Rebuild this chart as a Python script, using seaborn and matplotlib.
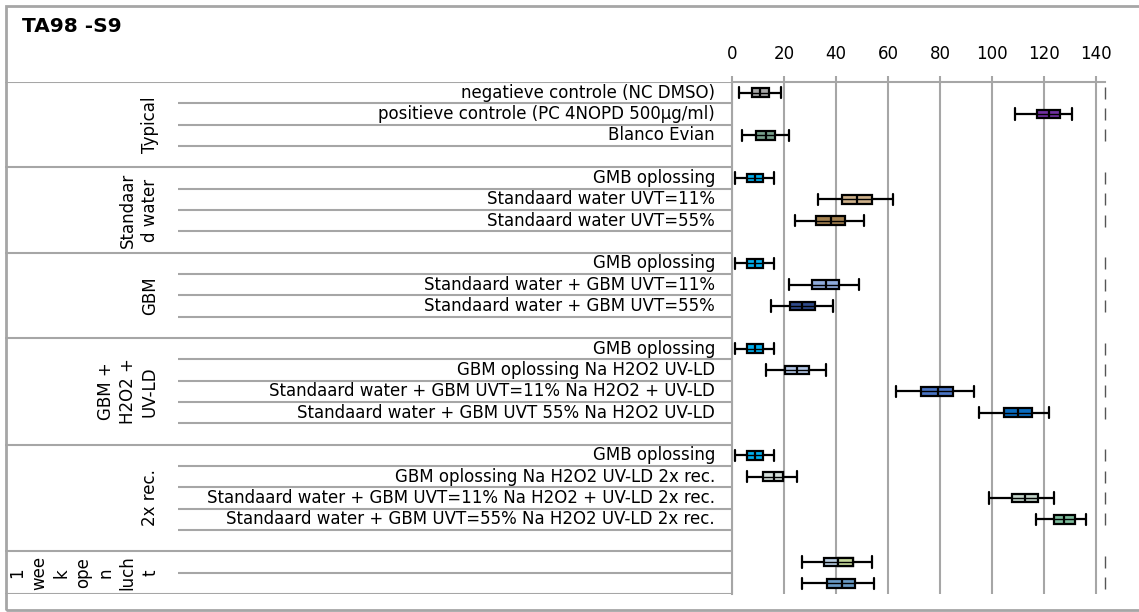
import matplotlib
matplotlib.use("Agg")
import matplotlib.pyplot as plt
from matplotlib.patches import Rectangle
import numpy as np
import pandas as pd
import seaborn as sns

# group names (left column) and how many rows each group takes
groups = ["Typical", "Standaar\nd water", "GBM", "GBM +\nH2O2 +\nUV-LD", "2x rec.",
          "1\nwee\nk\nope\nn\nluch\nt"]
group_sizes = [4, 4, 4, 5, 5, 2]

labels = [
    "negatieve controle (NC DMSO)", "positieve controle (PC 4NOPD 500µg/ml)", "Blanco Evian", "",
    "GMB oplossing", "Standaard water UVT=11%", "Standaard water UVT=55%", "",
    "GMB oplossing", "Standaard water + GBM UVT=11%", "Standaard water + GBM UVT=55%", "",
    "GMB oplossing", "GBM oplossing Na H2O2 UV-LD", "Standaard water + GBM UVT=11% Na H2O2 + UV-LD",
    "Standaard water + GBM UVT 55% Na H2O2 UV-LD", "",
    "GMB oplossing", "GBM oplossing Na H2O2 UV-LD 2x rec.",
    "Standaard water + GBM UVT=11% Na H2O2 + UV-LD 2x rec.",
    "Standaard water + GBM UVT=55% Na H2O2 UV-LD 2x rec.", "",
    "", "",
]

# five number summaries per row (None = empty row)
lows = [2.8, 108.8, 3.8, None, 1.0, 33.0, 24.1, None, 1.0, 21.9, 15.0, None,
        1.0, 13.0, 63.0, 94.9, None, 1.0, 5.8, 98.8, 116.8, None, 26.9, 26.9]
q1s = [7.6, 117.4, 9.3, None, 5.9, 42.2, 32.4, None, 5.9, 30.6, 22.2, None,
       5.9, 20.4, 72.8, 104.6, None, 5.9, 12.0, 107.8, 123.8, None, 35.5, 36.4]
medians = [10.9, 121.8, 13.0, None, 9.0, 48.0, 38.0, None, 9.0, 36.0, 27.1, None,
           9.0, 25.0, 79.2, 110.1, None, 9.0, 16.0, 112.9, 127.8, None, 40.9, 42.2]
q3s = [14.2, 126.2, 16.5, None, 12.0, 53.7, 43.3, None, 12.0, 41.3, 31.8, None,
       12.0, 29.6, 85.0, 115.3, None, 12.0, 19.7, 117.9, 131.8, None, 46.4, 47.4]
highs = [18.8, 130.8, 22.0, None, 16.0, 61.9, 50.9, None, 16.0, 49.0, 39.0, None,
         16.0, 36.0, 93.0, 121.9, None, 16.0, 25.0, 123.7, 136.0, None, 54.0, 54.8]

left_colors = ["#a6a6a6", "#7030a0", "#77a08c", None, "#00b0f0", "#cdb08a", "#a2804f", None,
               "#00b0f0", "#8eaadb", "#2f4b8c", None, "#00b0f0", "#b4c7e7", "#4a74c4", "#0a6cc0", None,
               "#00b0f0", "#d3ddd8", "#c2d3c8", "#7dbd9c", None, "#b8cce0", "#6899c4"]
right_colors = ["#a6a6a6", "#7030a0", "#77a08c", None, "#00b0f0", "#cdb08a", "#a2804f", None,
                "#00b0f0", "#8eaadb", "#2f4b8c", None, "#00b0f0", "#b4c7e7", "#4a74c4", "#0a6cc0", None,
                "#00b0f0", "#d3ddd8", "#c2d3c8", "#7dbd9c", None, "#c5d89a", "#6899c4"]

W, H = 1139, 612
GRAY = "#a6a6a6"

sns.set_style("white")
plt.rcParams["font.family"] = ["DejaVu Sans"]
plt.rcParams["text.color"] = "black"

row_ids = [f"r{i}" for i in range(len(labels))]
records = []
for rid, lo, a, m, b, hi in zip(row_ids, lows, q1s, medians, q3s, highs):
    if lo is None:
        continue
    for v in (lo, a, m, b, hi):
        records.append({"row": rid, "value": v})
df = pd.DataFrame(records)
palette = {rid: c for rid, c in zip(row_ids, left_colors) if c is not None}

fig = plt.figure(figsize=(W / 100, H / 100), dpi=100)

# outer frame
fig.add_artist(Rectangle((5.5 / W, 1 - 609.5 / H), 1.2, (609.5 - 6) / H,
                         transform=fig.transFigure, fill=False, edgecolor=GRAY, lw=2))

x0, x1, ytop, ybot = 732, 1105, 82, 594
ax = fig.add_axes([x0 / W, 1 - ybot / H, (x1 - x0) / W, (ybot - ytop) / H])
box_w = 0.42
sns.boxplot(data=df, x="value", y="row", order=row_ids, hue="row", palette=palette,
            orient="h", whis=(0, 100), width=box_w, linecolor="black", linewidth=1.6,
            saturation=1, legend=False, ax=ax, zorder=3,
            medianprops={"color": "black", "linewidth": 1.6},
            capprops={"linewidth": 1.6}, whiskerprops={"linewidth": 1.6})

# caps the height of the box like the original
for line in ax.lines:
    xd, yd = line.get_xdata(), line.get_ydata()
    if len(xd) == 2 and xd[0] == xd[1] and abs(yd[1] - yd[0]) < box_w * 0.9 and abs(yd[1] - yd[0]) > 0:
        c = (yd[0] + yd[1]) / 2
        line.set_ydata([c - 0.26, c + 0.26])

# right half colour + horizontal middle line of each box
for i, (a, m, b, lc, rc) in enumerate(zip(q1s, medians, q3s, left_colors, right_colors)):
    if a is None:
        continue
    if rc != lc:
        ax.barh(i, b - m, left=m, height=box_w, color=rc, edgecolor="black", lw=1.6, zorder=4)
    ax.hlines(i, a, b, color="black", lw=1.0, zorder=5)

xmax = 143.5
ax.set_xlim(0, xmax)
ax.set_ylim(len(labels) - 0.5, -0.5)
ax.set_xticks(range(0, 141, 20))
ax.set_yticks([])
ax.set_xlabel("")
ax.set_ylabel("")
ax.xaxis.tick_top()
ax.tick_params(axis="x", direction="out", length=4, width=1.5, color=GRAY, labelsize=12,
               pad=10, labelcolor="black")
ax.grid(axis="x", color=GRAY, lw=1.5, zorder=0)
ax.set_axisbelow(True)
for s in ["bottom", "right"]:
    ax.spines[s].set_visible(False)
for s in ["top", "left"]:
    ax.spines[s].set_color(GRAY)
    ax.spines[s].set_linewidth(1.5)

# small dashes at right edge for data rows
for i, lo in enumerate(lows):
    if lo is not None:
        ax.vlines(xmax, i - 0.28, i + 0.28, color="#555555", lw=1, clip_on=False, zorder=2)

# left table with group and category labels
tab = fig.add_axes([5 / W, 1 - ybot / H, (x0 - 5) / W, (ybot - ytop) / H])
tab.set_xlim(5, x0)
tab.set_ylim(len(labels) - 0.5, -0.5)
tab.axis("off")

bounds = np.cumsum([0] + group_sizes)
for k in range(len(labels) + 1):
    y = k - 0.5
    xs = 5 if k in bounds else 178
    tab.plot([xs, x0], [y, y], color=GRAY, lw=1.5, solid_capstyle="butt")

for i, lab in enumerate(labels):
    tab.text(715, i, lab, ha="right", va="center", fontsize=12)

for g, s, e in zip(groups, bounds[:-1], bounds[1:]):
    tab.text(159, (s + e - 1) / 2, g, rotation=90, ha="right", va="center",
             multialignment="center", fontsize=12, linespacing=1.3)

fig.text(22 / W, 1 - 26 / H, "TA98 -S9", fontsize=14.5, fontweight="bold", ha="left", va="center")

fig.savefig("out.png", dpi=100)
